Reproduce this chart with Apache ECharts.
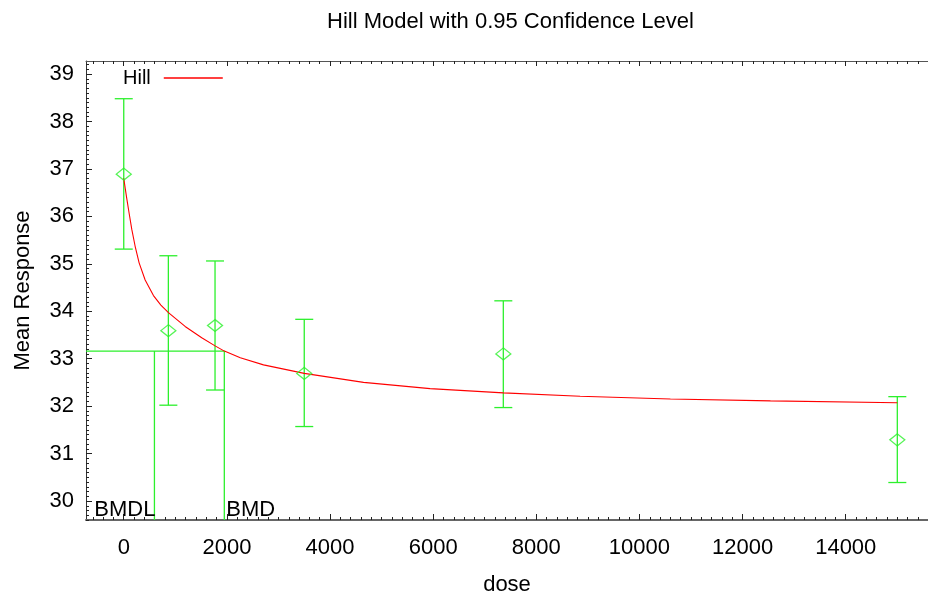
<!DOCTYPE html>
<html>
<head>
<meta charset="utf-8">
<script src="https://cdn.jsdelivr.net/npm/echarts@6/dist/echarts.min.js"></script>
<style>
html,body{margin:0;padding:0;background:#fff;}
#chart{width:928px;height:594px;}
</style>
</head>
<body>
<div id="chart"></div>
<script>
// ---- data ----
const doses   = [0, 865, 1770, 3500, 7360, 15000];
const means   = [36.89, 33.59, 33.70, 32.69, 33.10, 31.29];
const lowerCI = [35.31, 32.02, 32.34, 31.57, 31.97, 30.39];
const upperCI = [38.48, 35.17, 35.06, 33.83, 34.22, 32.20];

const curveDose = [0, 30, 58, 105, 155, 221, 298, 415, 576, 720, 866, 1190, 1512, 1771, 1951, 2260, 2710, 3500, 4650, 5940, 7360, 8850, 10600, 12540, 15000];
const curveResp = [36.80, 36.58, 36.38, 36.06, 35.73, 35.37, 35.02, 34.66, 34.33, 34.13, 33.97, 33.68, 33.44, 33.27, 33.16, 33.02, 32.87, 32.69, 32.50, 32.37, 32.28, 32.21, 32.15, 32.11, 32.07];

const bmdLabels = ['BMDL', 'BMD'];
const bmdValues = [595, 1950];
const bmrLevel = 33.16;

const xTickValues = [0, 2000, 4000, 6000, 8000, 10000, 12000, 14000];
const yTickValues = [30, 31, 32, 33, 34, 35, 36, 37, 38, 39];

// ---- axis extents ----
const X_MIN = -732, X_MAX = 15595;
const Y_MIN = 29.6, Y_MAX = 39.275;

const xMinor = [];
for (let v = -600; v <= 15400; v += 200) xMinor.push(v);
const yMinor = [];
for (let i = 296; i <= 392; i++) yMinor.push(+(i / 10).toFixed(1));

const GREEN = '#2cf02c';
const RED = '#ff0000';
const FONT = 'Liberation Sans, Arial, sans-serif';

const chart = echarts.init(document.getElementById('chart'), null, {renderer: 'canvas'});

const baseX = {
  type: 'value', min: X_MIN, max: X_MAX, splitLine: {show: false}
};
const baseY = {
  type: 'value', min: Y_MIN, max: Y_MAX, splitLine: {show: false}
};

const option = {
  animation: false,
  backgroundColor: '#fff',
  title: {
    text: 'Hill Model with 0.95 Confidence Level',
    left: 322, top: 6,
    textStyle: {fontFamily: FONT, fontSize: 22, fontWeight: 'normal', color: '#000'}
  },
  legend: {
    data: ['Hill'],
    left: 123, top: 68, padding: 0,
    align: 'right',
    icon: 'rect', itemWidth: 59, itemHeight: 1.3,
    textStyle: {fontFamily: FONT, fontSize: 20, color: '#000', padding: [0, 8, 0, 0]}
  },
  grid: {left: 86, top: 61, right: 0, bottom: 74, containLabel: false, outerBoundsMode: 'none'},
  xAxis: [
    Object.assign({}, baseX, {
      position: 'bottom',
      name: 'dose', nameLocation: 'middle', nameGap: 54,
      nameTextStyle: {fontFamily: FONT, fontSize: 22, color: '#000'},
      axisLine: {show: true, onZero: false, lineStyle: {color: '#666', width: 2}},
      axisTick: {show: true, inside: true, length: 6, customValues: xTickValues, lineStyle: {color: '#222'}},
      axisLabel: {show: true, customValues: xTickValues, margin: 17, fontFamily: FONT, fontSize: 22, color: '#000',
                  formatter: v => String(v)}
    }),
    Object.assign({}, baseX, {
      position: 'bottom',
      axisLine: {show: false, onZero: false},
      axisTick: {show: true, inside: true, length: 3, customValues: xMinor, lineStyle: {color: '#222'}},
      axisLabel: {show: false}
    }),
    Object.assign({}, baseX, {
      position: 'top',
      axisLine: {show: true, onZero: false, lineStyle: {color: '#555', width: 1}},
      axisTick: {show: true, inside: true, length: 5, customValues: xTickValues, lineStyle: {color: '#222'}},
      axisLabel: {show: false}
    }),
    Object.assign({}, baseX, {
      position: 'top',
      axisLine: {show: false, onZero: false},
      axisTick: {show: true, inside: true, length: 3, customValues: xMinor, lineStyle: {color: '#222'}},
      axisLabel: {show: false}
    })
  ],
  yAxis: [
    Object.assign({}, baseY, {
      position: 'left',
      name: 'Mean Response', nameLocation: 'middle', nameGap: 52, nameRotate: 90,
      nameTextStyle: {fontFamily: FONT, fontSize: 22, color: '#000'},
      axisLine: {show: true, onZero: false, lineStyle: {color: '#333', width: 1}},
      axisTick: {show: true, inside: true, length: 6, customValues: yTickValues, lineStyle: {color: '#222'}},
      axisLabel: {show: true, customValues: yTickValues, margin: 12, fontFamily: FONT, fontSize: 22, color: '#000',
                  formatter: v => String(v)}
    }),
    Object.assign({}, baseY, {
      position: 'left',
      axisLine: {show: false, onZero: false},
      axisTick: {show: true, inside: true, length: 3, customValues: yMinor, lineStyle: {color: '#222'}},
      axisLabel: {show: false}
    })
  ],
  series: [
    {
      name: 'Hill', type: 'line',
      xAxisIndex: 0, yAxisIndex: 0,
      data: curveDose.map((d, i) => [d, curveResp[i]]),
      showSymbol: false, symbol: 'none',
      smooth: false,
      lineStyle: {color: RED, width: 1.1},
      itemStyle: {color: RED},
      z: 3
    },
    {
      name: 'CI', type: 'custom',
      xAxisIndex: 0, yAxisIndex: 0,
      data: doses.map((d, i) => [d, lowerCI[i], upperCI[i]]),
      encode: {x: 0, y: [1, 2]},
      renderItem: function (params, api) {
        const lo = api.coord([api.value(0), api.value(1)]);
        const hi = api.coord([api.value(0), api.value(2)]);
        const hw = 9;
        const st = {stroke: GREEN, lineWidth: 1.3};
        return {
          type: 'group',
          children: [
            {type: 'line', shape: {x1: lo[0], y1: lo[1], x2: hi[0], y2: hi[1]}, style: st},
            {type: 'line', shape: {x1: lo[0] - hw, y1: lo[1], x2: lo[0] + hw, y2: lo[1]}, style: st},
            {type: 'line', shape: {x1: hi[0] - hw, y1: hi[1], x2: hi[0] + hw, y2: hi[1]}, style: st}
          ]
        };
      },
      z: 2
    },
    {
      name: 'Mean', type: 'scatter',
      xAxisIndex: 0, yAxisIndex: 0,
      data: doses.map((d, i) => [d, means[i]]),
      symbol: 'diamond', symbolSize: [15, 12],
      itemStyle: {color: 'rgba(0,0,0,0)', borderColor: GREEN, borderWidth: 1.3},
      z: 4
    },
    {
      name: 'BMD', type: 'line',
      xAxisIndex: 0, yAxisIndex: 0,
      data: [[X_MIN, bmrLevel], [bmdValues[1], bmrLevel], [bmdValues[1], Y_MIN]],
      showSymbol: false, symbol: 'none',
      lineStyle: {color: GREEN, width: 1.3},
      endLabel: {show: true, formatter: bmdLabels[1], align: 'left', verticalAlign: 'bottom',
                 distance: 0, offset: [2, 1], fontFamily: FONT, fontSize: 22, color: '#000'},
      z: 2
    },
    {
      name: 'BMDL', type: 'line',
      xAxisIndex: 0, yAxisIndex: 0,
      data: [[bmdValues[0], bmrLevel], [bmdValues[0], Y_MIN]],
      showSymbol: false, symbol: 'none',
      lineStyle: {color: GREEN, width: 1.3},
      endLabel: {show: true, formatter: bmdLabels[0], align: 'right', verticalAlign: 'bottom',
                 distance: 0, offset: [1, 1], fontFamily: FONT, fontSize: 22, color: '#000'},
      z: 2
    }
  ]
};
chart.setOption(option);
</script>
</body>
</html>
